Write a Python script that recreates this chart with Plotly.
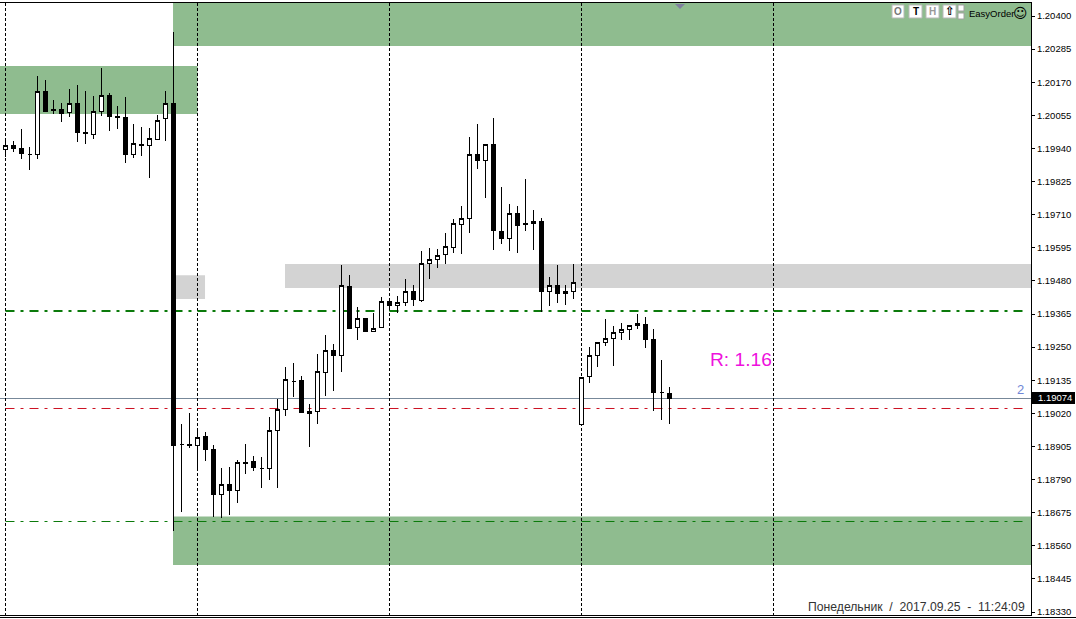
import plotly.graph_objects as go

# Candles: one entry per bar
open_ = [1.19937,1.19949,1.19941,1.19920,1.19920,1.20139,1.20076,1.20076,1.20064,1.20097,1.19996,1.19989,1.20069,1.20125,1.20052,1.20048,1.19920,1.19954,1.19950,1.19972,1.20045,
         1.20097,1.18913,1.18913,1.18909,1.18941,1.18895,1.18739,1.18774,1.18753,1.18850,1.18854,1.18829,1.18829,1.18961,1.19034,1.19131,1.19135,1.19025,1.19026,1.19163,
         1.19239,1.19220,1.19462,1.19317,1.19350,1.19304,1.19317,1.19409,1.19395,1.19406,1.19444,1.19411,1.19541,1.19555,1.19572,1.19597,1.19677,1.19697,1.19920,1.19899,
         1.19954,1.19652,1.19628,1.19715,1.19680,1.19680,1.19687,1.19444,1.19465,1.19442,1.19444,1.18981,1.19149,1.19222,1.19265,1.19281,1.19302,1.19312,1.19326,1.19329,1.19277,1.19093,1.19090]
high = [1.19966,1.19965,1.20007,1.19946,1.20192,1.20178,1.20108,1.20097,1.20145,1.20159,1.20139,1.20122,1.20218,1.20132,1.20087,1.20118,1.20024,1.20014,1.20010,1.20055,1.20139,
        1.20345,1.18983,1.19020,1.18959,1.18954,1.18909,1.18829,1.18833,1.18858,1.18913,1.18872,1.18867,1.19006,1.19070,1.19180,1.19194,1.19150,1.19051,1.19226,1.19292,
        1.19261,1.19535,1.19500,1.19388,1.19350,1.19368,1.19425,1.19417,1.19428,1.19487,1.19466,1.19584,1.19594,1.19590,1.19646,1.19694,1.19740,1.19979,1.20025,1.19954,
        1.20045,1.19805,1.19746,1.19740,1.19833,1.19726,1.19697,1.19493,1.19534,1.19466,1.19539,1.19145,1.19249,1.19269,1.19347,1.19323,1.19333,1.19326,1.19365,1.19354,1.19312,1.19205,1.19112]
low = [1.19911,1.19929,1.19904,1.19865,1.19904,1.20067,1.20060,1.20033,1.20050,1.19963,1.19957,1.19974,1.20053,1.20002,1.20009,1.19891,1.19908,1.19915,1.19838,1.19972,1.19967,
       1.18612,1.18679,1.18901,1.18828,1.18856,1.18661,1.18656,1.18667,1.18710,1.18810,1.18819,1.18762,1.18789,1.18762,1.19012,1.19078,1.19022,1.18904,1.18984,1.19081,
       1.19099,1.19165,1.19314,1.19275,1.19304,1.19304,1.19317,1.19379,1.19368,1.19393,1.19393,1.19408,1.19487,1.19525,1.19539,1.19578,1.19575,1.19647,1.19870,1.19769,
       1.19587,1.19608,1.19585,1.19578,1.19654,1.19587,1.19371,1.19394,1.19404,1.19397,1.19418,1.18981,1.19126,1.19182,1.19255,1.19185,1.19275,1.19275,1.19313,1.19248,1.19029,1.18998,1.18984]
close = [1.19951,1.19939,1.19922,1.19920,1.20139,1.20070,1.20071,1.20063,1.20097,1.19995,1.19991,1.20069,1.20125,1.20050,1.20047,1.19918,1.19958,1.19950,1.19975,1.20038,1.20097,
         1.18909,1.18913,1.18908,1.18937,1.18895,1.18738,1.18774,1.18751,1.18850,1.18845,1.18831,1.18829,1.18961,1.19034,1.19138,1.19131,1.19022,1.19019,1.19166,1.19239,
         1.19220,1.19465,1.19316,1.19349,1.19304,1.19315,1.19409,1.19394,1.19406,1.19444,1.19414,1.19541,1.19555,1.19569,1.19600,1.19680,1.19697,1.19920,1.19898,1.19954,
         1.19654,1.19627,1.19715,1.19672,1.19675,1.19687,1.19443,1.19463,1.19436,1.19436,1.19475,1.19145,1.19222,1.19267,1.19281,1.19302,1.19312,1.19326,1.19333,1.19276,1.19092,1.19093,1.19072]
bars = list(range(len(open_)))

# Price scale
tick_values = [1.20400,1.20285,1.20170,1.20055,1.19940,1.19825,1.19710,1.19595,1.19480,1.19365,
               1.19250,1.19135,1.19020,1.18905,1.18790,1.18675,1.18560,1.18445,1.18330]
tick_labels = ["%.5f" % v for v in tick_values]
period_bars = [0, 24, 48, 72, 96]
current_price = 1.190716

# Zones: bar from, bar to, price top, price bottom
GREEN_ZONES = [(20.94, 129, 1.20450, 1.20296), (-1, 24, 1.20226, 1.20060), (20.94, 129, 1.18662, 1.18493)]
GRAY_ZONES = [(20.94, 24.94, 1.19500, 1.19417), (34.94, 129, 1.19539, 1.19455)]
# Levels: price, width, colour
LEVELS = [(1.193755, 2, "#0b7a0b"), (1.190369, 1, "#cc1122"), (1.186444, 1, "#0b7a0b")]
LEVEL_START, LEVEL_END = 0, 127.75

W, H = 1076, 619
L, R, T, B = 0, 45, 3, 4
PW, PH = W - L - R, H - T - B
def px(x): return (x - L) / PW
def py(y): return (H - B - y) / PH

fig = go.Figure(go.Candlestick(
    x=bars, open=open_, high=high, low=low, close=close,
    increasing=dict(line=dict(color="black", width=1), fillcolor="white"),
    decreasing=dict(line=dict(color="black", width=1), fillcolor="black"),
    whiskerwidth=0, showlegend=False, hoverinfo="skip"))

shapes = []
for x0, x1, y0, y1 in GREEN_ZONES:
    shapes.append(dict(type="rect", xref="x", yref="y", x0=x0, x1=x1, y0=y0, y1=y1, fillcolor="#8FBC8F", line_width=0, layer="below"))
for x0, x1, y0, y1 in GRAY_ZONES:
    shapes.append(dict(type="rect", xref="x", yref="y", x0=x0, x1=x1, y0=y0, y1=y1, fillcolor="#D3D3D3", line_width=0, layer="below"))
for lvl, w, c in LEVELS:
    shapes.append(dict(type="line", xref="x", yref="y", x0=LEVEL_START, x1=LEVEL_END, y0=lvl, y1=lvl, layer="between",
                       line=dict(color=c, width=w, dash="9px,6px,3px,6px")))
shapes.append(dict(type="line", xref="paper", yref="y", x0=0, x1=1, y0=current_price, y1=current_price, layer="between",
                   line=dict(color="#778899", width=1)))
# price tag
shapes.append(dict(type="rect", xref="paper", yref="paper", x0=px(1032), x1=px(1075), y0=py(392), y1=py(404), fillcolor="black", line_width=0))
# second bottom line
shapes.append(dict(type="line", xref="paper", yref="paper", x0=0, x1=px(1076), y0=py(617.5), y1=py(617.5), line=dict(color="black", width=1)))
# toolbar buttons
for a, b in [(892, 904), (909, 922), (926, 939), (943, 956)]:
    shapes.append(dict(type="rect", xref="paper", yref="paper", x0=px(a), x1=px(b), y0=py(5), y1=py(18), fillcolor="white", line=dict(color="#b8b8b8", width=1)))
for a, b in [(5, 11), (13, 19)]:
    shapes.append(dict(type="rect", xref="paper", yref="paper", x0=px(958), x1=px(964), y0=py(a), y1=py(b), fillcolor="white", line=dict(color="#a0a0a0", width=1)))
# small marker at the top
shapes.append(dict(type="path", xref="paper", yref="paper",
                   path=f"M {px(675)} {py(4)} L {px(685)} {py(4)} L {px(680)} {py(9)} Z", fillcolor="#7f7f9f", line_width=0))

def note(x, y, text, size, color="black", family="Liberation Sans", anchor="left", bold=False):
    return dict(xref="paper", yref="paper", x=px(x), y=py(y), text=f"<b>{text}</b>" if bold else text, showarrow=False,
                xanchor=anchor, yanchor="middle", font=dict(family=family, size=size, color=color), borderpad=0)

annotations = [
    note(708.5, 360, "R: 1.16", 19.2, "#EE11DD"),
    note(1025, 389, "2", 13, "#6f86d6", anchor="right"),
    note(1037, 398, "1.19074", 9.5, "white"),
    note(1026, 607, "Понедельник\u00a0 /\u00a0 2017.09.25\u00a0 -\u00a0 11:24:09", 12.2, "#333333", anchor="right"),
    note(898, 11.5, "O", 10, "#777777", anchor="center", bold=True),
    note(915.5, 11.5, "T", 10, "black", anchor="center", bold=True),
    note(932.5, 11.5, "H", 10, "#999999", anchor="center", bold=True),
    note(949.5, 11.5, "⇧", 12, "black", family="DejaVu Sans", anchor="center", bold=True),
    note(968, 13, "EasyOrder", 9.5, "black"),
    note(1020.5, 13, "☺", 14, "black", family="DejaVu Sans", anchor="center"),
]

fig.update_layout(
    width=W, height=H, autosize=False, margin=dict(l=L, r=R, t=T, b=B, pad=0),
    paper_bgcolor="white", plot_bgcolor="white", showlegend=False, hovermode=False,
    boxgap=0.5, boxgroupgap=0, shapes=shapes, annotations=annotations,
    xaxis=dict(range=[-0.6875, 128.1875], rangeslider=dict(visible=False), tickmode="array", tickvals=period_bars,
               showticklabels=False, ticks="", showgrid=True, gridcolor="black", griddash="3px,2px", gridwidth=1,
               zeroline=False, showline=True, mirror=True, linecolor="black", linewidth=1),
    yaxis=dict(range=[1.183197, 1.204452], side="right", tickmode="array", tickvals=tick_values, ticktext=tick_labels,
               ticks="outside", ticklen=3, tickcolor="black", tickfont=dict(family="Liberation Sans", size=9.5, color="black"),
               showgrid=False, zeroline=False, showline=True, linecolor="black", linewidth=1),
)
CRISP = ("document.body.style.margin='0';"
         "var s=document.createElement('style');"
         "s.textContent='.boxlayer path,.xgrid{shape-rendering:crispEdges !important}';"
         "document.head.appendChild(s);")
fig.write_html("out.html", post_script=CRISP, config=dict(displayModeBar=False))
